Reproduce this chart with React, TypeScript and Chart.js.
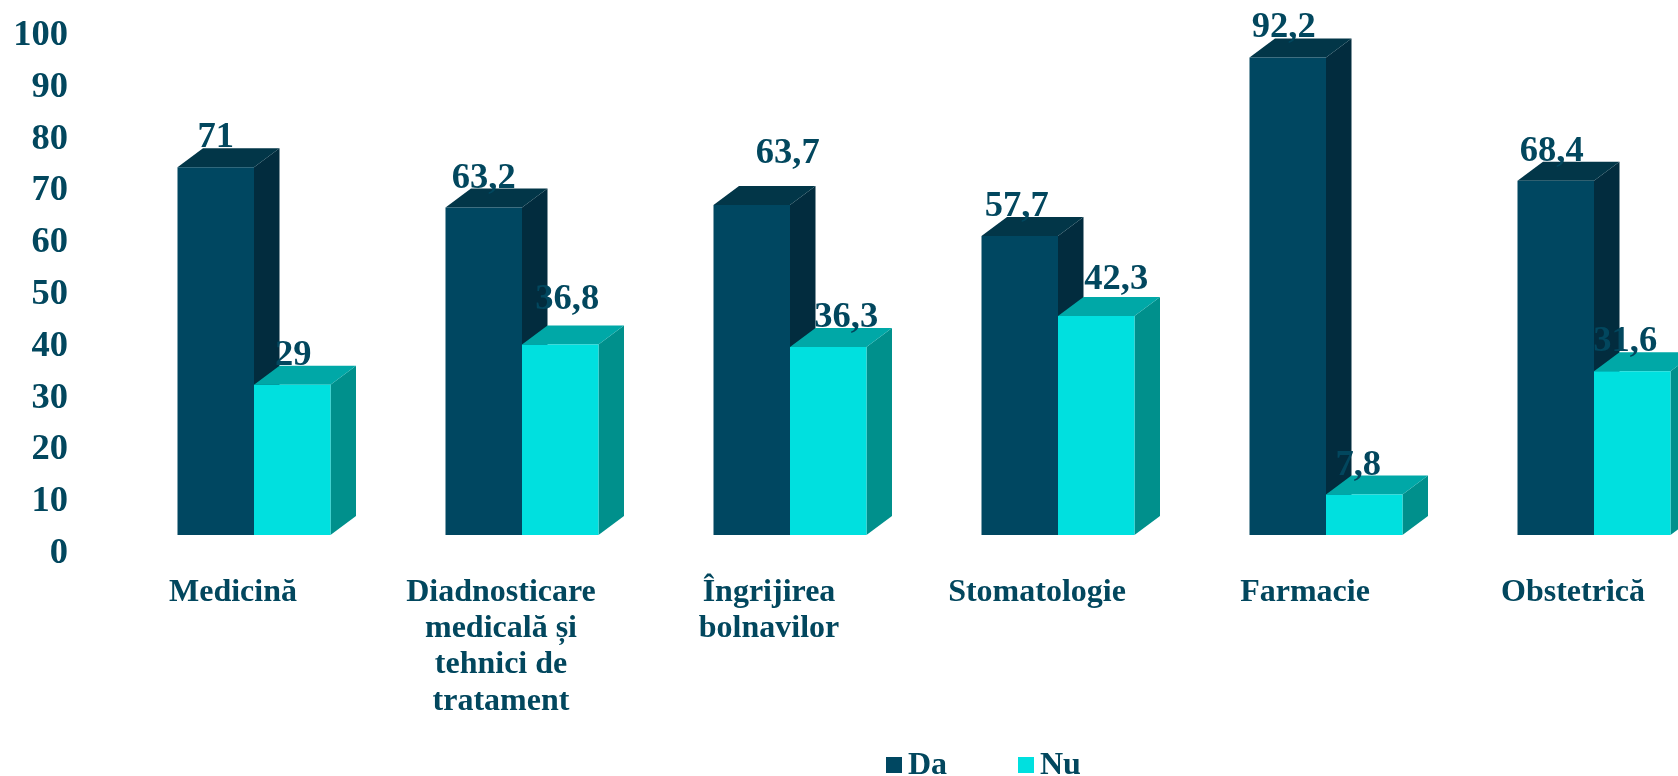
import React, { useEffect, useRef } from "react";
import { Chart, registerables } from "chart.js";

Chart.register(...registerables);

const categories: (string | string[])[] = [
  "Medicină",
  ["Diadnosticare", "medicală și", "tehnici de", "tratament"],
  ["Îngrijirea", "bolnavilor"],
  "Stomatologie",
  "Farmacie",
  "Obstetrică",
];
const daValues = [71, 63.2, 63.7, 57.7, 92.2, 68.4];
const nuValues = [29, 36.8, 36.3, 42.3, 7.8, 31.6];
const seriesNames = ["Da", "Nu"];

const FONT = "'Liberation Serif', 'Times New Roman', serif";
const TEXT = "#02475E";
const front = ["#004761", "#00E0DF"];
const topFace = ["#023648", "#00A8A7"];
const sideFace = ["#022C3E", "#00908C"];
const DX = 25.5;
const DY = 19;

// Nudges of the value labels relative to their bars, [dx, dy] in pixels.
const labelNudge = [
  [[0, 0], [1, 0]],
  [[0, 0], [7, -15]],
  [[36, -22], [18, 0]],
  [[-3, 0], [20, -7]],
  [[-4, 0], [-6, 0]],
  [[-4, 0], [-7, 0]],
];

const bars3d = {
  id: "bars3d",
  beforeDatasetsDraw(chart: any) {
    const { ctx } = chart;
    ctx.save();
    chart.data.datasets.forEach((_: any, d: number) => {
      chart.getDatasetMeta(d).data.forEach((bar: any) => {
        const { x, y, base, width } = bar.getProps(["x", "y", "base", "width"], true);
        const l = x - width / 2;
        const r = x + width / 2;
        ctx.fillStyle = sideFace[d];
        ctx.beginPath();
        ctx.moveTo(r, y);
        ctx.lineTo(r + DX, y - DY);
        ctx.lineTo(r + DX, base - DY);
        ctx.lineTo(r, base);
        ctx.closePath();
        ctx.fill();
        ctx.fillStyle = topFace[d];
        ctx.beginPath();
        ctx.moveTo(l, y);
        ctx.lineTo(l + DX, y - DY);
        ctx.lineTo(r + DX, y - DY);
        ctx.lineTo(r, y);
        ctx.closePath();
        ctx.fill();
      });
    });
    ctx.restore();
  },
  afterDatasetsDraw(chart: any) {
    const { ctx } = chart;
    ctx.save();
    ctx.font = `bold 36.5px ${FONT}`;
    ctx.fillStyle = TEXT;
    ctx.textAlign = "center";
    ctx.textBaseline = "alphabetic";
    chart.data.datasets.forEach((ds: any, d: number) => {
      chart.getDatasetMeta(d).data.forEach((bar: any, i: number) => {
        const [nx, ny] = labelNudge[i][d];
        const text = String(ds.data[i]).replace(".", ",");
        ctx.fillText(text, bar.x + nx, bar.y - DY + ny - 1);
      });
    });
    ctx.restore();
  },
  afterDraw(chart: any) {
    const { ctx } = chart;
    ctx.save();
    ctx.font = `bold 32px ${FONT}`;
    ctx.textAlign = "left";
    ctx.textBaseline = "alphabetic";
    const boxX = [886, 1018];
    chart.data.datasets.forEach((ds: any, d: number) => {
      ctx.fillStyle = ds.backgroundColor;
      ctx.fillRect(boxX[d], 757, 16, 16);
      ctx.fillStyle = TEXT;
      ctx.fillText(ds.label, boxX[d] + 22, 774);
    });
    ctx.restore();
  },
};

export default function App() {
  const ref = useRef<HTMLCanvasElement>(null);
  useEffect(() => {
    const chart = new Chart(ref.current!, {
      type: "bar",
      data: {
        labels: categories as any,
        datasets: [
          { label: seriesNames[0], data: daValues, backgroundColor: front[0] },
          { label: seriesNames[1], data: nuValues, backgroundColor: front[1] },
        ],
      },
      options: {
        animation: false,
        responsive: false,
        layout: { autoPadding: false, padding: { top: 17, left: 0, right: 0, bottom: 0 } },
        datasets: { bar: { categoryPercentage: 153 / 268, barPercentage: 1 } },
        plugins: { legend: { display: false }, tooltip: { enabled: false } },
        scales: {
          x: {
            grid: { display: false, drawTicks: false },
            border: { display: false },
            afterFit(scale: any) {
              scale.height = 241;
              scale.paddingLeft = 0;
              scale.paddingRight = 0;
            },
            ticks: {
              color: TEXT,
              font: { family: FONT, size: 32, weight: "bold", lineHeight: 1.14 },
              padding: 39,
              labelOffset: -21,
              autoSkip: false,
              maxRotation: 0,
              minRotation: 0,
            },
          },
          y: {
            min: 0,
            max: 100,
            grid: { display: false, drawTicks: false },
            border: { display: false },
            afterFit(scale: any) {
              scale.width = 120;
              scale.paddingTop = 0;
              scale.paddingBottom = 0;
            },
            ticks: {
              stepSize: 10,
              autoSkip: false,
              color: TEXT,
              font: { family: FONT, size: 36.5, weight: "bold" },
              padding: 52,
              labelOffset: 18.5,
            },
          },
        },
      } as any,
      plugins: [bars3d],
    });
    return () => chart.destroy();
  }, []);
  return (
    <div style={{ position: "fixed", left: 0, top: 0, width: 1678, height: 776, overflow: "hidden", background: "#fff" }}>
      <canvas ref={ref} width={1728} height={776} style={{ display: "block" }} />
    </div>
  );
}
